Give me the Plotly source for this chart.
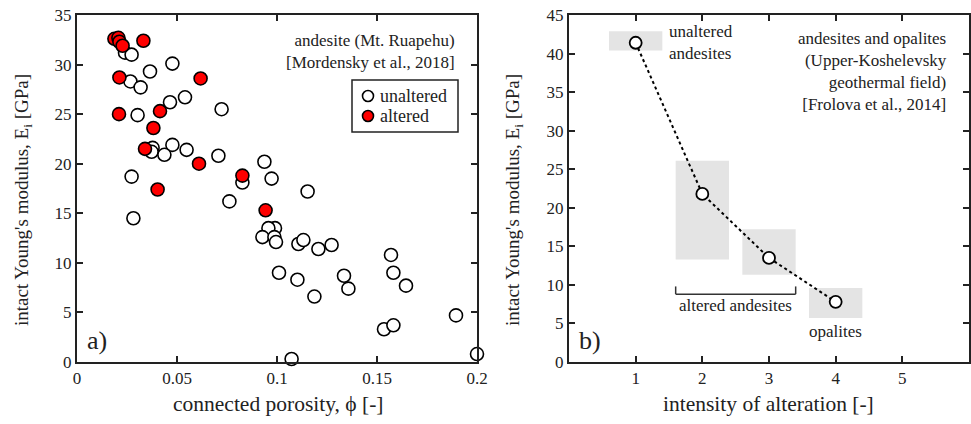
import plotly.graph_objects as go

# ---------------- data: panel a ----------------
unalt_phi = [0.024, 0.0273, 0.0477, 0.0365, 0.0267, 0.0318, 0.054, 0.0465, 0.0723, 0.0303,
             0.0378, 0.0373, 0.0477, 0.0437, 0.0548, 0.0707, 0.0937, 0.0273, 0.0827, 0.0973,
             0.1153, 0.0762, 0.0282, 0.099, 0.0957, 0.0927, 0.0987, 0.0995, 0.1107, 0.1132,
             0.1207, 0.1273, 0.157, 0.1582, 0.101, 0.1335, 0.1102, 0.1357, 0.1645, 0.1187,
             0.1895, 0.1535, 0.1582, 0.1073, 0.2]
unalt_E = [31.2, 31.0, 30.1, 29.3, 28.3, 27.7, 26.7, 26.2, 25.5, 24.9,
           21.6, 21.2, 21.9, 20.9, 21.4, 20.8, 20.2, 18.7, 18.1, 18.5,
           17.2, 16.2, 14.5, 13.5, 13.5, 12.6, 12.6, 12.1, 11.9, 12.3,
           11.4, 11.8, 10.8, 9.0, 9.0, 8.7, 8.3, 7.4, 7.7, 6.6,
           4.7, 3.3, 3.7, 0.3, 0.8]

alt_phi = [0.0187, 0.0207, 0.0212, 0.0228, 0.0332, 0.0212, 0.0618, 0.021, 0.0415, 0.0382,
           0.034, 0.061, 0.0827, 0.0403, 0.0943]
alt_E = [32.6, 32.7, 32.3, 31.9, 32.4, 28.7, 28.6, 25.0, 25.3, 23.6,
         21.5, 20.0, 18.8, 17.4, 15.3]

# ---------------- data: panel b ----------------
intensity = [1, 2, 3, 4]
E_mean = [41.4, 21.8, 13.5, 7.8]
E_low = [40.4, 13.3, 11.3, 5.7]
E_high = [42.9, 26.1, 17.2, 9.6]

xticks_a = [0, 0.05, 0.1, 0.15, 0.2]
xticklabels_a = ["0", "0.05", "0.1", "0.15", "0.2"]
yticks_a = [0, 5, 10, 15, 20, 25, 30, 35]
xticks_b = [1, 2, 3, 4, 5]
yticks_b = [0, 5, 10, 15, 20, 25, 30, 35, 40, 45]

FONT = "Liberation Serif"
TXT = "#222222"
W, H = 971, 424

fig = go.Figure()

fig.add_trace(go.Scatter(x=unalt_phi, y=unalt_E, mode="markers", name="unaltered",
                         marker=dict(size=13, color="white", line=dict(color="black", width=1.6)),
                         xaxis="x", yaxis="y", cliponaxis=False, showlegend=False))
fig.add_trace(go.Scatter(x=alt_phi, y=alt_E, mode="markers", name="altered",
                         marker=dict(size=13, color="#ff0000", line=dict(color="black", width=1.6)),
                         xaxis="x", yaxis="y", cliponaxis=False, showlegend=False))

# gray range boxes
for xi, lo, hi in zip(intensity, E_low, E_high):
    fig.add_shape(type="rect", xref="x2", yref="y2", x0=xi - 0.4, x1=xi + 0.4, y0=lo, y1=hi,
                  fillcolor="#e4e4e4", line=dict(width=0), layer="below")

fig.add_trace(go.Scatter(x=intensity, y=E_mean, mode="lines+markers",
                         line=dict(color="black", width=2, dash="dot"),
                         marker=dict(size=12, color="white", line=dict(color="black", width=1.8)),
                         xaxis="x2", yaxis="y2", showlegend=False))

# bracket for altered andesites
br = dict(color="#333333", width=1.5)
fig.add_shape(type="line", xref="x2", yref="y2", x0=1.6, x1=3.4, y0=8.8, y1=8.8, line=br)
fig.add_shape(type="line", xref="x2", yref="y2", x0=1.6, x1=1.6, y0=8.8, y1=9.8, line=br)
fig.add_shape(type="line", xref="x2", yref="y2", x0=3.4, x1=3.4, y0=8.8, y1=9.8, line=br)

axis_common = dict(showline=True, linecolor="#222222", linewidth=2, mirror="allticks",
                   ticks="inside", ticklen=6, tickwidth=1.5, tickcolor="#222222",
                   showgrid=False, zeroline=False, automargin=False,
                   tickfont=dict(family=FONT, size=17, color=TXT))

fig.update_layout(
    width=W, height=H,
    margin=dict(l=0, r=0, t=0, b=0, pad=0, autoexpand=False),
    paper_bgcolor="white", plot_bgcolor="white",
    xaxis=dict(domain=[77 / W, 477 / W], range=[0, 0.2], tickvals=xticks_a,
               ticktext=xticklabels_a, anchor="y", **axis_common),
    yaxis=dict(domain=[1 - 362 / H, 1 - 15 / H], range=[0, 35], tickvals=yticks_a,
               anchor="x", **axis_common),
    xaxis2=dict(domain=[569 / W, 969 / W], range=[0, 6], tickvals=xticks_b,
                anchor="y2", **axis_common),
    yaxis2=dict(domain=[1 - 362 / H, 1 - 15 / H], range=[0, 45], tickvals=yticks_b,
                anchor="x2", **axis_common),
)

def ann(text, x, y, xref="paper", yref="paper", size=17, xanchor="center", yanchor="middle",
        align="center", angle=0):
    fig.add_annotation(text=text, x=x, y=y, xref=xref, yref=yref, showarrow=False,
                       font=dict(family=FONT, size=size, color=TXT), xanchor=xanchor,
                       yanchor=yanchor, align=align, textangle=angle)

# axis titles
ann("intact Young's modulus, E<sub>i</sub> [GPa]", 23 / W, 1 - 200 / H, size=19, angle=-90)
ann("intact Young's modulus, E<sub>i</sub> [GPa]", 514 / W, 1 - 200 / H, size=19, angle=-90)
ann("connected porosity, ϕ [-]", 278 / W, 1 - 404 / H, size=21.5)
ann("intensity of alteration [-]", 768 / W, 1 - 404 / H, size=21.5)

# panel labels
ann("a)", 85 / W, 1 - 340 / H, size=26, xanchor="left")
ann("b)", 577 / W, 1 - 340 / H, size=26, xanchor="left")

# panel a source text
ann("andesite (Mt. Ruapehu)<br>[Mordensky et al., 2018]", 457 / W, 1 - 52 / H, size=17,
    xanchor="right", align="right")

# legend box with marker symbols
fig.add_shape(type="rect", xref="paper", yref="paper", x0=352 / W, x1=458 / W,
              y0=1 - 132 / H, y1=1 - 80 / H, line=dict(color="#222222", width=1.5),
              fillcolor="white")
for cy, col in [(96, "white"), (116, "#ff0000")]:
    fig.add_shape(type="circle", xref="paper", yref="paper",
                  x0=(368 - 5.5) / W, x1=(368 + 5.5) / W,
                  y0=1 - (cy + 5.5) / H, y1=1 - (cy - 5.5) / H,
                  fillcolor=col, line=dict(color="black", width=1.6))
ann("unaltered", 378 / W, 1 - 96 / H, size=18, xanchor="left")
ann("altered", 378 / W, 1 - 116 / H, size=18, xanchor="left")

# panel b texts
ann("andesites and opalites<br>(Upper-Koshelevsky<br>geothermal field)<br>[Frolova et al., 2014]",
    949 / W, 1 - 72 / H, size=17, xanchor="right", align="right")
ann("unaltered<br>andesites", 667 / W, 1 - 43 / H, size=17, xanchor="left", align="left")
ann("altered andesites", 2.5, 7.3, xref="x2", yref="y2", size=17)
ann("opalites", 4.0, 4.0, xref="x2", yref="y2", size=17)

fig.write_html("out.html")
